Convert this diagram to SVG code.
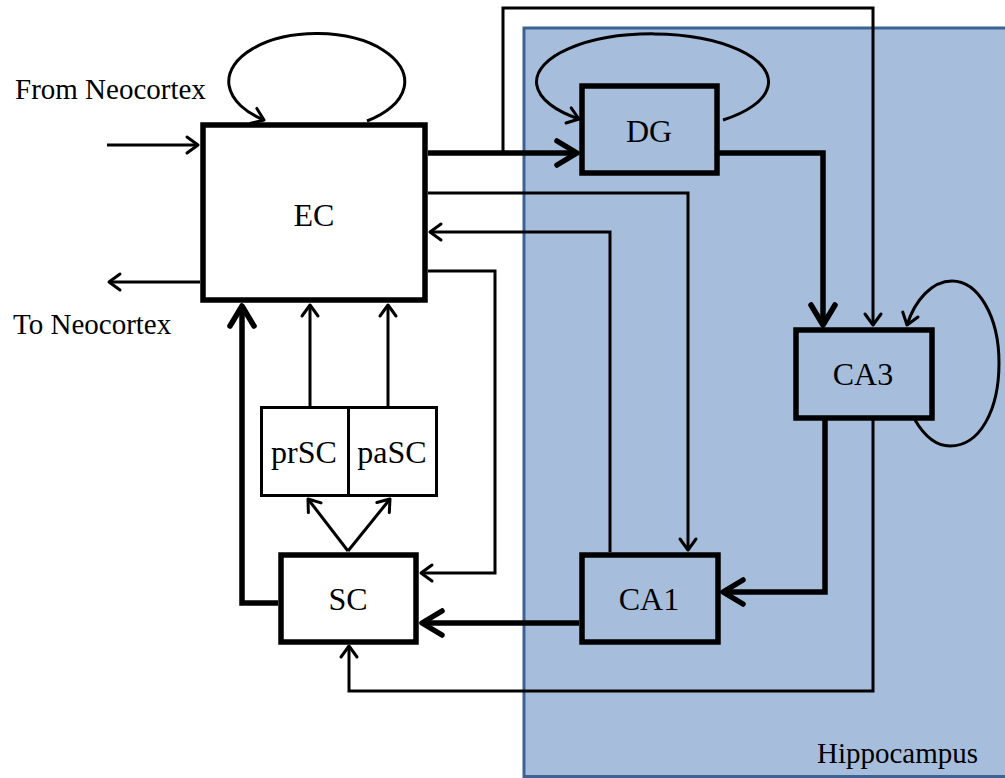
<svg xmlns="http://www.w3.org/2000/svg" width="1005" height="778" viewBox="0 0 1005 778">
  <defs>
    <style>
      .box { fill: #ffffff; stroke: #000000; stroke-width: 5.5; }
      .hbox { fill: #a6bedc; stroke: #000000; stroke-width: 5.5; }
      .sub { fill: #ffffff; stroke: #000000; stroke-width: 3; }
      .label { font-family: "Liberation Serif", "Times New Roman", serif; font-size: 32px; fill: #000000; text-anchor: middle; }
      .side { font-family: "Liberation Serif", "Times New Roman", serif; font-size: 29px; fill: #000000; }
      .thin { fill: none; stroke: #000000; stroke-width: 3; stroke-linejoin: miter; marker-end: url(#head); }
      .thick { fill: none; stroke: #000000; stroke-width: 5.5; stroke-linejoin: miter; marker-end: url(#headBig); }
    </style>
    <marker id="head" markerUnits="userSpaceOnUse" markerWidth="30" markerHeight="30" refX="0" refY="0" orient="auto" overflow="visible">
      <path d="M -11 -8 L 0 0 L -11 8" fill="none" stroke="#000000" stroke-width="3" stroke-linecap="round" stroke-linejoin="round"/>
    </marker>
    <marker id="headBig" markerUnits="userSpaceOnUse" markerWidth="40" markerHeight="40" refX="0" refY="0" orient="auto" overflow="visible">
      <path d="M -20 -12 L 0 0 L -20 12" fill="none" stroke="#000000" stroke-width="5.5" stroke-linecap="round" stroke-linejoin="round"/>
    </marker>
  </defs>

  <rect width="1005" height="778" fill="#ffffff"/>

  <!-- hippocampal region -->
  <g id="hippocampus">
    <rect x="524" y="28" width="495" height="748.5" fill="#a6bedc" stroke="#3d6294" stroke-width="3"/>
    <text class="side" x="817" y="763">Hippocampus</text>
  </g>

  <!-- external labels -->
  <text class="side" x="15" y="99">From Neocortex</text>
  <text class="side" x="13" y="334">To Neocortex</text>

  <!-- connectors -->
  <g id="connectors">
    <!-- neocortex in/out -->
    <path class="thin" d="M 107 145 L 198 145"/>
    <path class="thin" d="M 200 282 L 109 282"/>
    <!-- recurrent loops -->
    <path class="thin" d="M 367 121 A 88 48 0 1 0 264 120"/>
    <path class="thin" d="M 723 120 A 116 48 0 1 0 579 119"/>
    <path class="thin" d="M 915 420 C 925 437, 937 446, 950 446 C 980 446, 999 410, 999 363 C 999 316, 978 281, 952 281 C 932 281, 915 300, 907 325"/>
    <!-- EC to CA3 over the top -->
    <path class="thin" d="M 503 153 V 8 H 873 V 325"/>
    <!-- EC to CA1 -->
    <path class="thin" d="M 428 193 H 688 V 550"/>
    <!-- CA1 back to EC -->
    <path class="thin" d="M 610 552 V 232 H 430"/>
    <!-- EC to SC -->
    <path class="thin" d="M 428 271 H 495 V 573 H 421"/>
    <!-- CA3 to SC along the bottom -->
    <path class="thin" d="M 873 420 V 691 H 349 V 646"/>
    <!-- prSC / paSC to EC -->
    <path class="thin" d="M 310 406 V 305"/>
    <path class="thin" d="M 388 406 V 305"/>
    <!-- SC to prSC / paSC -->
    <path class="thin" d="M 348 551 L 308 499"/>
    <path class="thin" d="M 348 551 L 390 499"/>
    <!-- main trisynaptic pathway -->
    <path class="thick" d="M 428 153 H 577"/>
    <path class="thick" d="M 719 153 H 823 V 325"/>
    <path class="thick" d="M 825 420 V 592 H 723"/>
    <path class="thick" d="M 579 623 H 422"/>
    <path class="thick" d="M 278 603 H 242 V 306"/>
  </g>

  <!-- nodes -->
  <g id="EC">
    <rect class="box" x="203" y="125" width="222" height="175"/>
    <text class="label" x="314" y="226">EC</text>
  </g>
  <g id="DG">
    <rect class="hbox" x="582" y="86" width="135" height="87"/>
    <text class="label" x="649" y="142">DG</text>
  </g>
  <g id="CA3">
    <rect class="hbox" x="796" y="330" width="136" height="88"/>
    <text class="label" x="863" y="385">CA3</text>
  </g>
  <g id="CA1">
    <rect class="hbox" x="582" y="555" width="136" height="87"/>
    <text class="label" x="649" y="610">CA1</text>
  </g>
  <g id="SC">
    <rect class="box" x="281" y="555" width="135" height="87"/>
    <text class="label" x="348" y="610">SC</text>
  </g>
  <g id="prSC">
    <rect class="sub" x="261.5" y="407.5" width="87" height="88"/>
    <text class="label" x="304" y="463">prSC</text>
  </g>
  <g id="paSC">
    <rect class="sub" x="348.5" y="407.5" width="88" height="88"/>
    <text class="label" x="392" y="463">paSC</text>
  </g>
</svg>
